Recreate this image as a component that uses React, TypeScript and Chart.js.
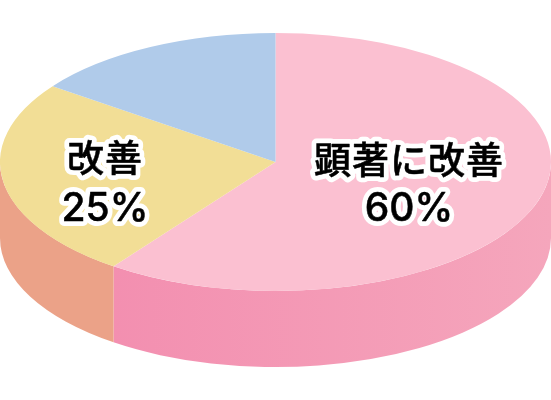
import { useEffect, useRef } from 'react';
import { Chart, registerables } from 'chart.js';

Chart.register(...registerables);

const categories = ['顕著に改善', '改善', ''];
const values = [60, 25, 15];
const valueLabels = ['60%', '25%', ''];

const topColors = ['#fbc0d1', '#f2de96', '#b0cbea'];
const sideColorsLeft = ['#f38fb0', '#eba288', '#8fa9cc'];
const sideColorsRight = ['#f5a6bc', '#eba288', '#8fa9cc'];

// tilt of the pie
const CENTER_Y = 162;
const RADIUS_Y = 129;
const DEPTH = 76;
const FONT = '500 37px "Noto Sans CJK JP"';
const VALUE_FONT = '500 39px Inter';

// text centres, px
const labelCenters = [
    { x: 409, y: 160, y2: 209 },
    { x: 105, y: 158, y2: 209 },
];

const tiltPlugin = {
    id: 'tilt',
    beforeDatasetsDraw(chart: any) {
        const ctx = chart.ctx;
        const arcs = chart.getDatasetMeta(0).data;
        const first = arcs[0];
        const cx = first.x;
        const rx = first.outerRadius;

        // side wall, only the front half of the pie can be seen
        arcs.forEach((arc: any, i: number) => {
            const start = Math.max(arc.startAngle, 0);
            const end = Math.min(arc.endAngle, Math.PI);
            const parts = arc.startAngle < Math.PI && arc.endAngle > 0 ? [[start, end]] : [];
            parts.forEach(([a, b]) => {
                const fill = ctx.createLinearGradient(cx + rx * Math.cos(b), 0, cx + rx * Math.cos(a), 0);
                fill.addColorStop(0, sideColorsLeft[i]);
                fill.addColorStop(1, sideColorsRight[i]);
                ctx.save();
                ctx.fillStyle = fill;
                ctx.beginPath();
                ctx.ellipse(cx, CENTER_Y, rx, RADIUS_Y, 0, a, b);
                ctx.ellipse(cx, CENTER_Y + DEPTH, rx, RADIUS_Y, 0, b, a, true);
                ctx.closePath();
                ctx.fill();
                ctx.restore();
            });
        });

        // squash the pie itself into an ellipse
        ctx.save();
        ctx.translate(0, CENTER_Y);
        ctx.scale(1, RADIUS_Y / rx);
        ctx.translate(0, -first.y);
    },
    afterDatasetsDraw(chart: any) {
        const ctx = chart.ctx;
        ctx.restore();

        ctx.save();
        ctx.textAlign = 'center';
        ctx.textBaseline = 'middle';
        ctx.lineJoin = 'round';
        labelCenters.forEach((pos, i) => {
            [
                [categories[i], pos.y, FONT, '1px'],
                [valueLabels[i], pos.y2, VALUE_FONT, '0px'],
            ].forEach(([text, y, font, spacing]) => {
                ctx.font = font;
                ctx.letterSpacing = spacing;
                ctx.strokeStyle = '#ffffff';
                ctx.lineWidth = 10;
                ctx.strokeText(text, pos.x, y);
                // a hair of stroke, the reference text is a little heavier
                ctx.strokeStyle = '#000000';
                ctx.lineWidth = 0.5;
                ctx.strokeText(text, pos.x, y);
                ctx.fillStyle = '#000000';
                ctx.fillText(text, pos.x, y);
            });
        });
        ctx.restore();
    },
};

const App = () => {
    const chartRef = useRef<HTMLCanvasElement>(null);

    useEffect(() => {
        document.body.style.margin = '0';
        if (!chartRef.current) return;
        const myChart = new Chart(chartRef.current, {
            type: 'pie',
            data: {
                labels: categories,
                datasets: [{
                    data: values,
                    backgroundColor: topColors,
                    borderWidth: 0,
                }],
            },
            options: {
                responsive: false,
                animation: false,
                layout: { padding: 0 },
                plugins: {
                    legend: { display: false },
                    tooltip: { enabled: false },
                },
            },
            plugins: [tiltPlugin],
        });
        return () => {
            myChart.destroy();
        };
    }, []);

    return (
        <div style={{ width: 551, height: 400, overflow: 'hidden', background: '#ffffff' }}>
            <canvas ref={chartRef} width={551} height={551} style={{ display: 'block' }} />
        </div>
    );
};

export default App;
